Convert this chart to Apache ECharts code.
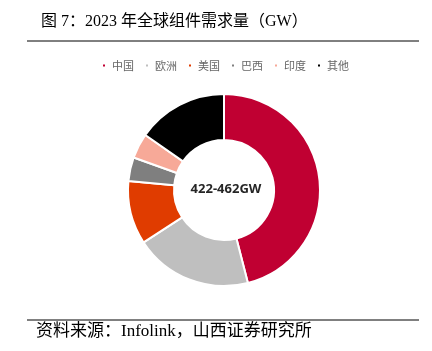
<!DOCTYPE html>
<html>
<head>
<meta charset="utf-8">
<script src="https://cdn.jsdelivr.net/npm/echarts@6/dist/echarts.min.js"></script>
<style>
  html, body { margin: 0; padding: 0; background: #fff; }
  #chart { width: 432px; height: 351px; }
</style>
</head>
<body>
<div id="chart"></div>
<script>
// 2023 全球组件需求占比（从图中估读，%）
const regions = ['中国', '欧洲', '美国', '巴西', '印度', '其他'];
const shares = [46, 19.8, 10.7, 4, 4.2, 15.3];
const colors = ['#C00032', '#BFBFBF', '#E03C00', '#7F7F7F', '#F7A998', '#000000'];
const centerLabel = '422-462GW';

const serif = '"Liberation Serif", "Noto Sans CJK SC", serif';

let myChart = echarts.init(document.getElementById('chart'));
myChart.setOption({
  animation: false,
  color: colors,
  title: {
    text: '图 7：2023 年全球组件需求量（GW）',
    left: 36,
    top: 9,
    textStyle: { fontFamily: serif, fontSize: 16, fontWeight: 'normal', color: '#000' }
  },
  legend: {
    data: regions,
    top: 55,
    left: 96,
    icon: 'rect',
    itemWidth: 4,
    itemHeight: 4,
    itemGap: 10,
    textStyle: { fontFamily: '"Noto Sans CJK SC"', fontSize: 11, color: '#666', padding: [0, 0, 0, 1] }
  },
  graphic: [
    { type: 'line', shape: { x1: 27, y1: 41, x2: 419, y2: 41 }, style: { stroke: '#000', lineWidth: 1 } },
    { type: 'line', shape: { x1: 27, y1: 320, x2: 419, y2: 320 }, style: { stroke: '#000', lineWidth: 1 } },
    {
      type: 'text', left: 36, top: 323,
      style: { text: '资料来源：Infolink，山西证券研究所', font: '17px ' + serif, fill: '#000' }
    },
    {
      type: 'text', x: 226, y: 189,
      style: { text: centerLabel, font: 'bold 13px "Noto Sans", sans-serif', fill: '#262626', align: 'center', verticalAlign: 'middle' }
    }
  ],
  series: [
    {
      type: 'pie',
      center: [224, 190],
      radius: [50, 96],
      startAngle: 90,
      clockwise: true,
      label: { show: false },
      labelLine: { show: false },
      itemStyle: { borderColor: '#fff', borderWidth: 2 },
      data: regions.map((name, i) => ({ name: name, value: shares[i] }))
    }
  ]
});
</script>
</body>
</html>
